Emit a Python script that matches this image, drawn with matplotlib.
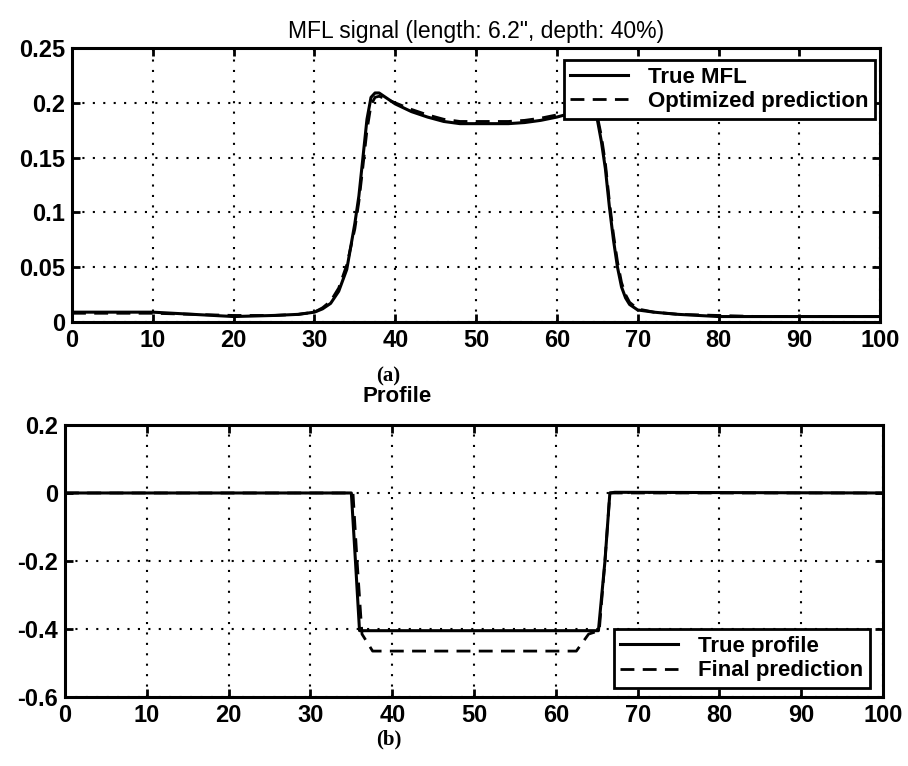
import matplotlib
matplotlib.use("Agg")
import matplotlib.pyplot as plt

plt.rcParams['font.family'] = ['Liberation Sans', 'DejaVu Sans']
plt.rcParams['font.weight'] = 'bold'

# MFL signal: true vs optimized prediction
mfl_x = [0, 5, 10, 15, 20, 25, 28, 30, 31, 32, 33, 34, 35, 35.5, 36, 36.5, 37, 37.5, 38, 39, 40,
         42, 44, 46, 48, 50, 52, 54, 56, 58, 60, 62, 63, 64, 64.5, 65, 65.5, 66, 66.5, 67, 67.5,
         68, 68.5, 69, 70, 72, 75, 80, 85, 90, 95, 100]
mfl_true = [0.009, 0.009, 0.009, 0.007, 0.005, 0.006, 0.007, 0.009, 0.012, 0.017, 0.028, 0.048,
            0.09, 0.115, 0.15, 0.185, 0.205, 0.209, 0.209, 0.204, 0.199, 0.192, 0.187, 0.183,
            0.181, 0.181, 0.181, 0.181, 0.182, 0.184, 0.187, 0.191, 0.194, 0.197, 0.195, 0.185,
            0.165, 0.14, 0.105, 0.075, 0.05, 0.032, 0.022, 0.016, 0.011, 0.009, 0.007, 0.005,
            0.005, 0.005, 0.005, 0.005]
mfl_pred = [0.008, 0.008, 0.008, 0.007, 0.006, 0.006, 0.007, 0.009, 0.013, 0.019, 0.031, 0.052,
            0.085, 0.11, 0.142, 0.175, 0.198, 0.205, 0.206, 0.203, 0.2, 0.194, 0.189, 0.185,
            0.183, 0.183, 0.183, 0.183, 0.184, 0.186, 0.189, 0.193, 0.196, 0.198, 0.196, 0.188,
            0.17, 0.145, 0.11, 0.08, 0.055, 0.036, 0.025, 0.018, 0.012, 0.009, 0.007, 0.006,
            0.005, 0.005, 0.005, 0.005]

# Defect profile: true vs final prediction
prof_x = [0, 35.0, 35.5, 36.0, 65.2, 66.0, 66.6, 67.2, 100]
prof_true = [0, 0, -0.2, -0.405, -0.405, -0.2, 0, 0.002, 0]
pred_x = [0, 35.2, 35.7, 36.3, 37.6, 62.5, 64.0, 65.3, 66.0, 66.6, 100]
prof_pred = [0, 0, -0.2, -0.415, -0.465, -0.465, -0.415, -0.405, -0.2, 0, 0]

xticks = list(range(0, 101, 10))
mfl_yticks = [0, 0.05, 0.1, 0.15, 0.2, 0.25]
mfl_ylabels = ['0', '0.05', '0.1', '0.15', '0.2', '0.25']
prof_yticks = [-0.6, -0.4, -0.2, 0, 0.2]
prof_ylabels = ['-0.6', '-0.4', '-0.2', '0', '0.2']

fig = plt.figure(figsize=(9.08, 7.66), dpi=100)
ax1 = fig.add_axes([0.0793, 0.5796, 0.890, 0.3577])
ax2 = fig.add_axes([0.0716, 0.0901, 0.901, 0.3551])


def style_axes(ax, yticks, ylabels, ylim):
    ax.set_xlim(0, 100)
    ax.set_ylim(*ylim)
    ax.set_xticks(xticks)
    ax.set_xticklabels([str(t) for t in xticks])
    ax.set_yticks(yticks)
    ax.set_yticklabels(ylabels)
    ax.grid(True, color='black', linestyle=(0, (1, 4)), linewidth=1.5)
    ax.tick_params(direction='in', length=6, width=2, top=True, right=True,
                   labelsize=17, pad=5)
    for s in ax.spines.values():
        s.set_linewidth(2.2)


def add_legend(ax, loc, anchor):
    leg = ax.legend(loc=loc, bbox_to_anchor=anchor, fontsize=16, fancybox=False,
                    framealpha=1, edgecolor='black', handlelength=2.6,
                    handletextpad=0.9, borderaxespad=0, borderpad=0.3,
                    labelspacing=0.15)
    leg.get_frame().set_linewidth(2)
    return leg


ax1.plot(mfl_x, mfl_true, color='black', lw=2.2, label='True MFL')
ax1.plot(mfl_x, mfl_pred, color='black', lw=2.0, linestyle=(0, (5, 3)),
         label='Optimized prediction')
style_axes(ax1, mfl_yticks, mfl_ylabels, (0, 0.25))
add_legend(ax1, 'upper right', (0.994, 0.956))
ax1.set_title('MFL signal (length: 6.2", depth: 40%)', fontsize=16.5,
              fontweight='normal', pad=7)

ax2.plot(prof_x, prof_true, color='black', lw=2.2, label='True profile')
ax2.plot(pred_x, prof_pred, color='black', lw=2.0, linestyle=(0, (5, 3)),
         label='Final prediction')
style_axes(ax2, prof_yticks, prof_ylabels, (-0.6, 0.2))
add_legend(ax2, 'lower right', (0.984, 0.033))

fig.text(0.428, 0.509, '(a)', family='Liberation Serif', fontsize=15,
         fontweight='bold', ha='center', va='center')
fig.text(0.437, 0.482, 'Profile', fontsize=16, ha='center', va='center')
fig.text(0.428, 0.034, '(b)', family='Liberation Serif', fontsize=15,
         fontweight='bold', ha='center', va='center')

fig.savefig('out.png', dpi=100)
